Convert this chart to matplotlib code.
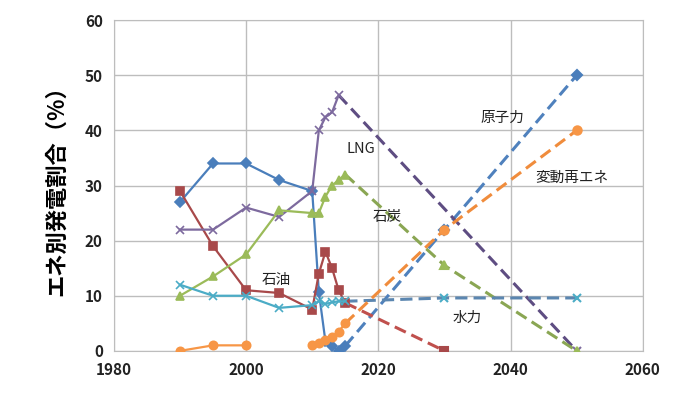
import numpy as np
import matplotlib.pyplot as plt

plt.rcParams['font.family'] = ['Noto Sans CJK JP', 'DejaVu Sans']

# historical data (solid lines)
yrs_hist = [1990, 1995, 2000, 2005, 2010, 2011, 2012, 2013, 2014, 2015]
nuclear = [27, 34, 34, 31, 29, 10.7, 1.7, 0.9, 0, 0.9]
oil = [29, 19, 11, 10.5, 7.5, 14, 18, 15, 11, 8.7]
lng = [22, 22, 26, 24.3, 29, 40, 42.4, 43.3, 46.4, np.nan]
coal = [10, 13.5, 17.5, 25.5, 25, 25, 28, 30, 31, 32]
hydro = [12, 10, 10, 7.8, 8.3, 9, 8.5, 8.8, 9, 9]
renew = [0, 1, 1, np.nan, 1, 1.5, 2, 2.5, 3.5, 5]

# projections (dashed lines)
nuclear_py = [2015, 2030, 2050]
nuclear_pv = [0.9, 22, 50]
oil_py = [2015, 2030]
oil_pv = [8.7, 0]
lng_py = [2014, 2050]
lng_pv = [46.4, 0]
coal_py = [2015, 2030, 2050]
coal_pv = [32, 15.5, 0]
hydro_py = [2015, 2030, 2050]
hydro_pv = [9, 9.6, 9.6]
renew_py = [2015, 2030, 2050]
renew_pv = [5, 22, 40]

labels = ['原子力', '石油', 'LNG', '石炭', '水力', '変動再エネ']
label_x = [2035.5, 2002.4, 2015.2, 2019.2, 2031.2, 2043.8]
label_y = [42.2, 12.9, 36.6, 24.3, 6.0, 31.3]

fig = plt.figure(figsize=(6.86, 3.96), dpi=100)
ax = fig.add_axes([0.166, 0.114, 0.771, 0.835])

series = [
    (nuclear, nuclear_py, nuclear_pv, '#4A7EBB', '#4F81BD', 'D', 5),
    (oil, oil_py, oil_pv, '#A8494A', '#C0504D', 's', 6),
    (lng, lng_py, lng_pv, '#7D6A9E', '#5E4D82', 'x', 6),
    (coal, coal_py, coal_pv, '#9BBB59', '#8AA653', '^', 6),
    (hydro, hydro_py, hydro_pv, '#4BACC6', '#5B86B0', 'x', 6),
    (renew, renew_py, renew_pv, '#F79646', '#F08C3C', 'o', 6),
]

for vals, py, pv, c_solid, c_dash, m, ms in series:
    ax.plot(py, pv, color=c_dash, lw=2.2, dashes=(4, 2), zorder=2)
    ax.plot(py[1:], pv[1:], ls='none', marker=m, ms=ms, color=c_solid,
            mec=c_solid, mew=1.5, zorder=3)
    ax.plot(yrs_hist, vals, color=c_solid, lw=1.6, marker=m, ms=ms,
            mec=c_solid, mew=1.2, zorder=4)

for t, x, y in zip(labels, label_x, label_y):
    ax.text(x, y, t, fontsize=10.5, color='#222222', va='center', ha='left',
            family=['Noto Sans CJK JP', 'DejaVu Sans'], zorder=5)

ax.set_xlim(1980, 2060)
ax.set_ylim(0, 60)
ax.set_xticks(range(1980, 2061, 20))
ax.set_yticks(range(0, 61, 10))
ax.grid(True, color='#BDBDBD', lw=1)
ax.set_axisbelow(True)
for s in ax.spines.values():
    s.set_color('#BDBDBD')
ax.tick_params(length=0, labelsize=11, colors='#222222', pad=8)
for lab in ax.get_xticklabels() + ax.get_yticklabels():
    lab.set_fontweight('bold')
ax.set_ylabel('エネ別発電割合（%）', fontsize=16, fontweight='bold', labelpad=12)

fig.savefig('out.png', dpi=100)
